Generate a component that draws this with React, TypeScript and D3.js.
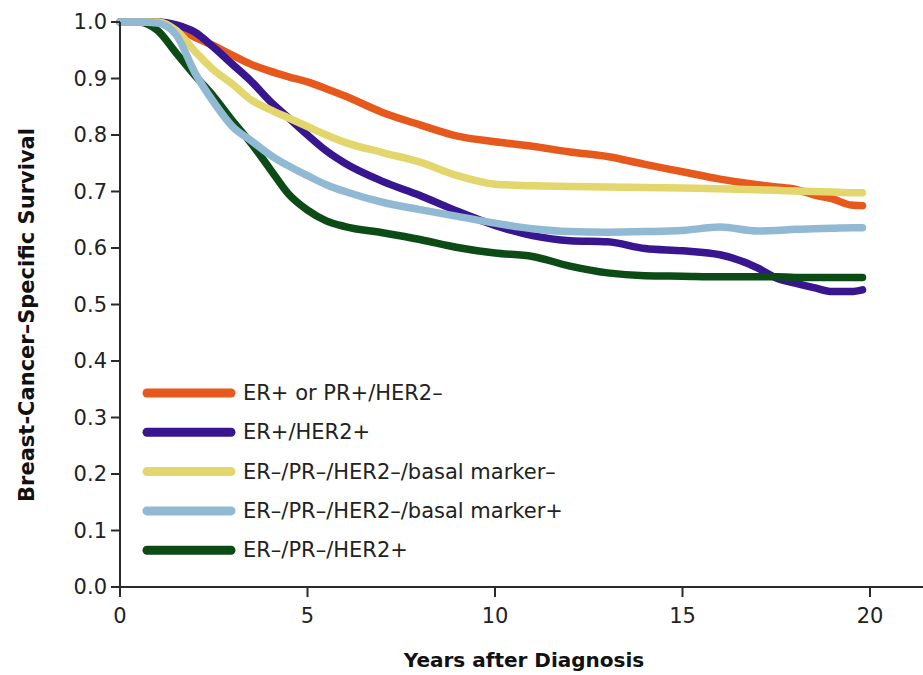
import React from "react";
import * as d3 from "d3";

// years after diagnosis (shared grid for all curves)
const years = [0, 0.5, 1, 1.5, 2, 2.5, 3, 3.5, 4, 4.5, 5, 5.5, 6, 7, 8, 9, 10, 11, 12, 13, 14, 15, 16, 17, 17.5, 18, 18.5, 19, 19.5, 19.8];

const erPosHer2Neg = [1.0, 1.0, 1.0, 0.99, 0.973, 0.958, 0.941, 0.925, 0.913, 0.903, 0.894, 0.882, 0.869, 0.84, 0.818, 0.798, 0.788, 0.78, 0.77, 0.762, 0.748, 0.735, 0.722, 0.712, 0.708, 0.704, 0.694, 0.687, 0.676, 0.675];
const erPosHer2Pos = [1.0, 1.0, 1.0, 0.995, 0.982, 0.955, 0.925, 0.895, 0.86, 0.83, 0.8, 0.772, 0.75, 0.718, 0.693, 0.665, 0.64, 0.622, 0.613, 0.611, 0.599, 0.595, 0.588, 0.565, 0.547, 0.538, 0.53, 0.523, 0.523, 0.526];
const basalNeg = [1.0, 1.0, 1.0, 0.985, 0.948, 0.915, 0.89, 0.862, 0.845, 0.83, 0.815, 0.8, 0.787, 0.769, 0.752, 0.728, 0.713, 0.71, 0.709, 0.708, 0.707, 0.706, 0.705, 0.703, 0.702, 0.701, 0.7, 0.699, 0.698, 0.698];
const basalPos = [1.0, 1.0, 0.998, 0.977, 0.91, 0.858, 0.815, 0.79, 0.765, 0.745, 0.728, 0.712, 0.7, 0.681, 0.668, 0.656, 0.644, 0.634, 0.629, 0.628, 0.629, 0.631, 0.637, 0.63, 0.631, 0.633, 0.634, 0.635, 0.636, 0.636];
const her2Pos = [1.0, 1.0, 0.985, 0.945, 0.905, 0.868, 0.825, 0.785, 0.74, 0.695, 0.667, 0.648, 0.638, 0.627, 0.615, 0.601, 0.591, 0.585, 0.568, 0.556, 0.551, 0.55, 0.549, 0.549, 0.549, 0.548, 0.548, 0.548, 0.548, 0.548];

const labels = [
  "ER+ or PR+/HER2\u2013",
  "ER+/HER2+",
  "ER\u2013/PR\u2013/HER2\u2013/basal marker\u2013",
  "ER\u2013/PR\u2013/HER2\u2013/basal marker+",
  "ER\u2013/PR\u2013/HER2+",
];
const colors = ["#e6581c", "#371690", "#e2d66c", "#92b9d3", "#0d4b16"];
const seriesValues = [erPosHer2Neg, erPosHer2Pos, basalNeg, basalPos, her2Pos];
const drawOrder = [0, 1, 4, 2, 3];

const xTicks = [0, 5, 10, 15, 20];
const yTicks = [0, 0.1, 0.2, 0.3, 0.4, 0.5, 0.6, 0.7, 0.8, 0.9, 1.0];

const W = 923;
const H = 675;
const FONT = "'DejaVu Sans', sans-serif";

export default function App() {
  const x = d3.scaleLinear().domain([0, 20]).range([120, 870]);
  const y = d3.scaleLinear().domain([0, 1]).range([587, 22]);

  const line = d3
    .line<number>()
    .x((_, i) => x(years[i]))
    .y((d) => y(d))
    .curve(d3.curveMonotoneX);

  return (
    <svg width={W} height={H} style={{ position: "absolute", left: 0, top: 0, background: "#fff" }} fontFamily={FONT}>
      {/* curves */}
      {drawOrder.map((k) => (
        <path key={k} d={line(seriesValues[k]) || ""} fill="none" stroke={colors[k]} strokeWidth={7.5} strokeLinejoin="round" strokeLinecap="round" />
      ))}

      {/* axes */}
      <line x1={x(0)} x2={W} y1={y(0)} y2={y(0)} stroke="#2a2a2a" strokeWidth={2} />
      <line x1={x(0)} x2={x(0)} y1={y(1)} y2={y(0)} stroke="#2a2a2a" strokeWidth={2} />
      {yTicks.map((t) => (
        <g key={t}>
          <line x1={x(0) - 9} x2={x(0)} y1={y(t)} y2={y(t)} stroke="#2a2a2a" strokeWidth={2} />
          <text x={107} y={y(t)} textAnchor="end" dominantBaseline="central" fontSize={21} fill="#222">
            {d3.format(".1f")(t)}
          </text>
        </g>
      ))}
      {xTicks.map((t) => (
        <g key={t}>
          <line x1={x(t)} x2={x(t)} y1={y(0)} y2={y(0) + 10} stroke="#2a2a2a" strokeWidth={2} />
          <text x={x(t)} y={623} textAnchor="middle" fontSize={21} fill="#222">
            {t}
          </text>
        </g>
      ))}

      {/* axis titles */}
      <text x={524} y={667} textAnchor="middle" fontSize={20} fontWeight="bold" fill="#111">
        Years after Diagnosis
      </text>
      <text transform={`translate(34, 315) rotate(-90)`} textAnchor="middle" fontSize={21} fontWeight="bold" fill="#111">
        Breast-Cancer{"\u2013"}Specific Survival
      </text>

      {/* legend */}
      {labels.map((lab, i) => {
        const ly = 393 + i * 39.3;
        return (
          <g key={lab}>
            <line x1={147} x2={231} y1={ly} y2={ly} stroke={colors[i]} strokeWidth={9} strokeLinecap="round" />
            <text x={243} y={ly} dominantBaseline="central" fontSize={21} fill="#222">
              {lab}
            </text>
          </g>
        );
      })}
    </svg>
  );
}
